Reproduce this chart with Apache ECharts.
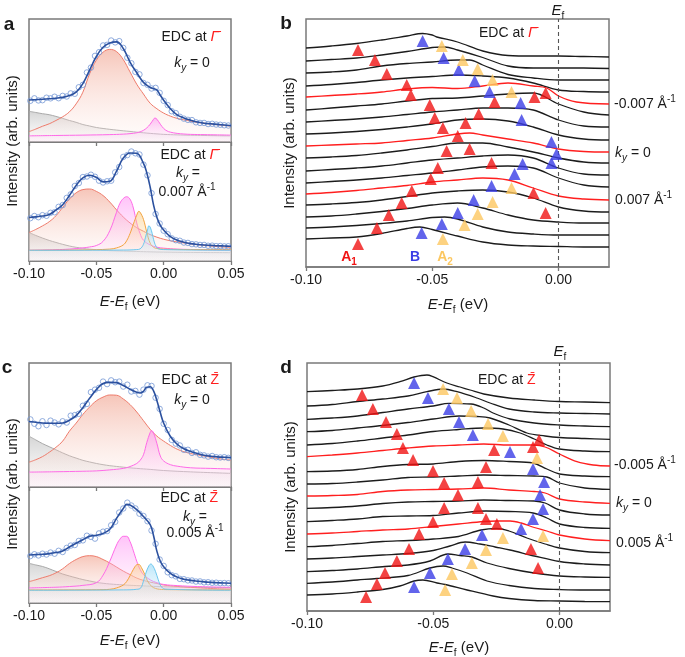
<!DOCTYPE html>
<html><head><meta charset="utf-8">
<script src="https://cdn.jsdelivr.net/npm/echarts/dist/echarts.min.js"></script>
<style>html,body{margin:0;padding:0;background:#fff}#c{width:685px;height:657px}</style>
</head><body><div id="c"></div><script>
// ---------- DATA ----------
const ptsE = [-0.099,-0.096,-0.093,-0.090,-0.087,-0.084,-0.081,-0.078,-0.075,-0.072,-0.069,-0.066,-0.063,-0.060,-0.057,-0.054,-0.051,-0.048,-0.045,-0.042,-0.039,-0.036,-0.033,-0.030,-0.027,-0.024,-0.021,-0.018,-0.015,-0.012,-0.009,-0.006,-0.003,0.000,0.003,0.006,0.009,0.012,0.015,0.018,0.021,0.024,0.027,0.030,0.033,0.036,0.039,0.042,0.045,0.048];
const aTopPts = [33.5,35.5,33.8,34.0,36.0,35.5,36.8,35.6,37.5,37.0,39.5,39.2,44.5,46.5,56.5,60.5,70.0,73.0,78.5,79.0,82.5,81.0,82.0,76.5,68.5,64.0,57.0,55.0,48.0,46.5,43.5,44.0,40.0,33.5,30.0,25.0,23.5,20.5,19.0,18.0,17.8,16.0,15.5,15.5,14.6,14.8,14.2,14.0,13.6,13.4];
const aBotPts = [36.0,37.8,36.8,38.5,38.0,40.5,41.0,45.5,47.0,53.0,56.0,63.0,65.5,70.5,71.0,72.5,70.8,67.5,66.0,67.0,67.5,74.5,79.0,87.5,89.0,92.0,90.5,89.5,81.0,72.0,57.0,39.5,31.5,25.5,22.5,19.0,17.5,17.0,15.5,15.2,14.2,14.0,13.5,13.5,12.8,12.9,12.5,12.6,12.3,12.4];
const cTopPts = [54.5,51.0,49.0,53.0,50.0,53.5,52.0,50.5,53.0,52.0,57.5,58.0,59.0,65.5,67.0,76.5,78.5,80.0,85.0,83.0,86.0,84.5,85.0,81.0,82.5,77.0,77.5,74.5,78.5,82.0,81.5,72.0,63.0,51.0,46.0,38.0,35.0,33.5,30.0,30.0,27.5,28.0,26.0,25.5,24.5,25.0,24.0,23.8,24.0,23.5];
const cBotPts = [40.5,42.0,41.0,42.5,41.8,43.5,42.5,45.0,44.0,47.5,49.5,50.0,53.5,54.0,58.0,57.0,55.5,60.0,61.5,62.0,67.0,70.0,78.0,81.5,86.5,84.0,81.5,77.0,75.0,70.5,62.5,51.0,37.5,32.0,26.5,24.0,23.0,20.8,20.5,19.5,19.4,18.5,18.6,17.8,17.9,17.4,17.5,17.1,17.2,17.0];

const aTopFit = [[-0.100,34.1],[-0.095,34.4],[-0.090,34.7],[-0.085,35.1],[-0.080,35.6],[-0.075,36.3],[-0.070,37.8],[-0.065,40.5],[-0.060,47.5],[-0.055,58.5],[-0.050,69.5],[-0.045,77],[-0.040,80.5],[-0.035,81.4],[-0.030,76],[-0.025,65],[-0.020,56.3],[-0.015,48.5],[-0.010,44.3],[-0.0075,43.4],[-0.005,42.3],[-0.0025,38],[0.000,34],[0.005,27],[0.010,22],[0.015,19.5],[0.020,17.7],[0.025,16.2],[0.030,15.3],[0.035,14.8],[0.040,14.3],[0.045,13.8],[0.050,13.3]];
const aTopRed = [[-0.100,8.4],[-0.095,10.5],[-0.090,12.8],[-0.085,14.8],[-0.080,17.5],[-0.075,20.5],[-0.070,24.5],[-0.065,31],[-0.060,40.5],[-0.055,55.5],[-0.050,66.5],[-0.045,73],[-0.040,75.3],[-0.035,73.5],[-0.030,67],[-0.025,57],[-0.020,47],[-0.015,39],[-0.010,31.5],[-0.005,27],[0.000,23.5],[0.005,21],[0.010,19.2],[0.015,18],[0.020,17],[0.025,16],[0.030,15.3],[0.035,14.7],[0.040,14.1],[0.045,13.5],[0.050,13]];
const aTopGray = [[-0.100,25],[-0.095,24],[-0.090,23],[-0.085,22.2],[-0.080,20.8],[-0.075,19.2],[-0.070,17.5],[-0.065,16],[-0.060,14.2],[-0.055,13],[-0.050,11.8],[-0.045,11],[-0.040,10.3],[-0.035,9.7],[-0.030,9.1],[-0.025,8.6],[-0.020,8],[-0.015,7.5],[-0.010,7],[-0.005,6.6],[0.000,6.2],[0.010,5.8],[0.020,5.5],[0.030,5.3],[0.040,5.1],[0.050,5]];
const aTopPink = [[-0.100,5],[-0.080,5.3],[-0.060,5.6],[-0.040,6],[-0.030,6.4],[-0.025,6.8],[-0.020,7.5],[-0.0175,8.3],[-0.015,9.5],[-0.0125,11.5],[-0.010,14.5],[-0.0075,18.5],[-0.0065,19.5],[-0.005,18.5],[-0.0025,14.5],[0.000,11],[0.0025,9],[0.005,8],[0.010,7],[0.015,6.5],[0.020,6.2],[0.030,6],[0.040,5.8],[0.050,5.6]];

const aBotFit = [[-0.100,36.6],[-0.095,37.1],[-0.090,37.8],[-0.085,39],[-0.080,42.8],[-0.075,47.3],[-0.070,55],[-0.065,63.5],[-0.060,69.8],[-0.055,72],[-0.050,70.3],[-0.045,66.5],[-0.040,67],[-0.035,75.5],[-0.030,86.5],[-0.025,90.8],[-0.020,90.5],[-0.015,82],[-0.0125,74],[-0.010,62],[-0.0075,47],[-0.005,36.5],[-0.0025,30],[0.000,26],[0.005,20.5],[0.010,17.5],[0.015,15.8],[0.020,14.6],[0.025,13.9],[0.030,13.4],[0.035,13.1],[0.040,12.8],[0.045,12.6],[0.050,12.4]];
const aBotRed = [[-0.100,23.9],[-0.095,26.5],[-0.090,29.5],[-0.085,33],[-0.080,38],[-0.075,45],[-0.070,52],[-0.065,57.3],[-0.060,60],[-0.055,60.5],[-0.050,58.5],[-0.045,55],[-0.040,49.5],[-0.035,43],[-0.030,37],[-0.025,32],[-0.020,28],[-0.015,25],[-0.010,22.2],[-0.005,20],[0.000,18.3],[0.005,17],[0.010,16],[0.015,15.2],[0.020,14.5],[0.025,13.8],[0.030,13.2],[0.035,12.6],[0.040,12.1],[0.045,11.7],[0.050,11.3]];
const aBotMag = [[-0.100,9],[-0.090,9.2],[-0.080,9.5],[-0.070,10],[-0.060,11],[-0.055,11.8],[-0.050,13],[-0.045,16.5],[-0.040,25.5],[-0.035,41],[-0.0325,48.5],[-0.030,52.5],[-0.0275,54],[-0.025,52],[-0.0225,44.5],[-0.020,32],[-0.0175,23],[-0.015,17.5],[-0.010,13.5],[-0.005,11.6],[0.000,10.8],[0.010,10],[0.020,9.7],[0.035,9.3],[0.050,9]];
const aBotOrg = [[-0.100,9],[-0.060,9.3],[-0.040,10],[-0.035,11],[-0.030,13.5],[-0.0275,17],[-0.025,23],[-0.0225,31],[-0.020,38.5],[-0.0185,41.7],[-0.0175,41],[-0.015,35],[-0.0125,24],[-0.010,15],[-0.0075,11.5],[-0.005,10.5],[0.000,10],[0.020,9.6],[0.050,9.5]];
const aBotCyan = [[-0.100,9],[-0.030,9.2],[-0.020,9.6],[-0.0175,10.2],[-0.015,14],[-0.0135,20],[-0.012,26],[-0.011,29.6],[-0.010,28.5],[-0.0085,23],[-0.007,16],[-0.0055,12],[-0.004,10.3],[0.000,9.6],[0.050,9]];
const aBotGray = [[-0.100,24],[-0.095,21.5],[-0.090,19.3],[-0.085,17.3],[-0.080,15.6],[-0.075,14],[-0.070,12.6],[-0.065,11.5],[-0.060,10.7],[-0.055,10],[-0.050,9.5],[-0.045,9],[-0.040,8.7],[-0.030,8.3],[-0.020,8],[-0.010,7.7],[0.000,7.5],[0.020,7.2],[0.050,7]];

const cTopFit = [[-0.100,52.8],[-0.095,52.2],[-0.090,51.6],[-0.085,51.4],[-0.080,51.4],[-0.075,51.6],[-0.070,53.8],[-0.065,57.5],[-0.060,64],[-0.055,71.5],[-0.050,78.5],[-0.045,83.5],[-0.040,84.4],[-0.035,84.2],[-0.030,81.8],[-0.025,78.8],[-0.020,76.4],[-0.0175,75.8],[-0.015,77.2],[-0.0125,80.5],[-0.010,80.8],[-0.0075,77.5],[-0.005,69.5],[-0.0025,60],[0.000,51.5],[0.005,40.7],[0.010,34.5],[0.015,30.8],[0.020,28.6],[0.025,27],[0.030,25.6],[0.035,24.8],[0.040,24.3],[0.045,24],[0.050,23.7]];
const cTopRed = [[-0.100,20],[-0.095,22],[-0.090,24.5],[-0.085,28],[-0.080,32],[-0.075,37],[-0.070,45],[-0.065,51.5],[-0.060,58.5],[-0.055,64.5],[-0.050,69.5],[-0.045,72.5],[-0.040,74.2],[-0.035,74],[-0.030,71],[-0.025,66.5],[-0.020,60.5],[-0.015,53.5],[-0.010,46.5],[-0.005,41],[0.000,37],[0.005,33.5],[0.010,30.5],[0.015,28.5],[0.020,27],[0.025,26],[0.030,25],[0.035,24],[0.040,23],[0.045,22.3],[0.050,21.8]];
const cTopMag = [[-0.100,12],[-0.080,12.3],[-0.060,12.7],[-0.050,13],[-0.040,13.8],[-0.030,15],[-0.025,16.5],[-0.020,19],[-0.0175,21.5],[-0.015,26],[-0.0125,36],[-0.010,44],[-0.009,45.5],[-0.0075,43.5],[-0.005,35],[-0.0025,25],[0.000,21],[0.005,18],[0.010,16.8],[0.020,15.5],[0.035,15],[0.050,14.5]];
const cTopGray = [[-0.100,41],[-0.095,38],[-0.090,35],[-0.085,32.5],[-0.080,30],[-0.075,27.5],[-0.070,25.2],[-0.065,23.3],[-0.060,21.5],[-0.055,20.2],[-0.050,19],[-0.045,18],[-0.040,17.2],[-0.030,16],[-0.020,15],[-0.010,14.2],[0.000,13.3],[0.020,12.2],[0.050,11]];

const cBotFit = [[-0.100,41.4],[-0.095,41.7],[-0.090,42],[-0.085,42.6],[-0.080,43.5],[-0.075,44.8],[-0.070,48.3],[-0.065,51.5],[-0.060,54.5],[-0.055,57.5],[-0.050,58.4],[-0.045,60],[-0.040,63.5],[-0.035,73],[-0.030,81.5],[-0.0275,85],[-0.025,84.5],[-0.020,80.5],[-0.015,74.5],[-0.010,67.5],[-0.0075,58],[-0.005,44.5],[-0.0025,36],[0.000,31.3],[0.005,25.5],[0.010,22.3],[0.015,20.5],[0.020,19.5],[0.025,18.8],[0.030,18.2],[0.035,17.8],[0.040,17.5],[0.045,17.2],[0.050,17]];
const cBotRed = [[-0.100,18.4],[-0.095,20],[-0.090,21.8],[-0.085,23.5],[-0.080,26],[-0.075,29.5],[-0.070,34],[-0.065,37.5],[-0.060,40],[-0.055,40.8],[-0.050,40],[-0.045,37.5],[-0.040,34.5],[-0.035,31],[-0.030,27.5],[-0.025,24.5],[-0.020,21.5],[-0.015,19.5],[-0.010,18],[-0.005,16.8],[0.000,15.5],[0.010,14.3],[0.020,13.5],[0.030,12.8],[0.040,12.3],[0.050,12]];
const cBotMag = [[-0.100,13],[-0.080,13.6],[-0.070,14.2],[-0.060,15.2],[-0.050,17.5],[-0.045,24],[-0.040,36],[-0.035,50],[-0.0325,55],[-0.030,57.5],[-0.0275,57.5],[-0.025,53],[-0.0225,45],[-0.020,36],[-0.0175,29],[-0.015,24.5],[-0.010,20],[-0.005,17.5],[0.000,16],[0.010,15],[0.025,14.2],[0.050,13.5]];
const cBotOrg = [[-0.100,11.2],[-0.050,11.4],[-0.040,11.8],[-0.035,13],[-0.030,15.5],[-0.0275,18.5],[-0.025,23.5],[-0.0225,29],[-0.020,33],[-0.0185,33.3],[-0.0165,30.5],[-0.014,24.5],[-0.0115,18],[-0.009,14.5],[-0.006,12.5],[0.000,11.6],[0.050,11.2]];
const cBotCyan = [[-0.100,11],[-0.030,11.3],[-0.020,11.8],[-0.017,13],[-0.015,19],[-0.013,26.5],[-0.011,32],[-0.0095,33.6],[-0.008,32],[-0.006,27],[-0.004,20],[-0.002,14.5],[0.001,12],[0.050,11]];
const cBotGray = [[-0.100,34.2],[-0.095,32.8],[-0.090,31.5],[-0.085,29.5],[-0.080,27.2],[-0.075,25],[-0.070,23.3],[-0.065,21.7],[-0.060,20.2],[-0.055,19],[-0.050,17.8],[-0.045,17],[-0.040,16.4],[-0.030,15.6],[-0.020,15],[-0.010,14.5],[0.000,14],[0.020,13.6],[0.050,13.2]];

// stacked EDCs, panel b (intensity incl. offset)
const edcB = [
 [[-0.100,219],[-0.090,221],[-0.080,223.5],[-0.070,227],[-0.060,231],[-0.0538,233.5],[-0.050,232],[-0.0482,230],[-0.040,225],[-0.030,216],[-0.020,211.5],[-0.010,211],[0.000,211],[0.010,210.5],[0.020,210]],
 [[-0.100,206],[-0.090,207.5],[-0.080,209],[-0.070,212],[-0.060,215.5],[-0.050,219.5],[-0.0451,220],[-0.040,217],[-0.030,209.5],[-0.020,201],[-0.010,199],[0.000,199],[0.010,199],[0.020,198.5]],
 [[-0.100,194],[-0.090,195],[-0.080,197],[-0.070,201],[-0.060,203.5],[-0.050,205],[-0.040,207],[-0.0352,207],[-0.030,202],[-0.020,192.5],[-0.010,189],[0.000,187],[0.010,187],[0.020,187]],
 [[-0.100,181],[-0.090,182.5],[-0.080,184.5],[-0.070,187],[-0.060,189],[-0.050,190.5],[-0.040,192],[-0.030,191],[-0.020,189],[-0.010,184],[0.000,177],[0.010,175.5],[0.020,175]],
 [[-0.100,170],[-0.090,171.5],[-0.080,173],[-0.070,175],[-0.060,178],[-0.050,179.5],[-0.040,178.5],[-0.030,181],[-0.020,184],[-0.010,181],[-0.0047,179],[0.000,171],[0.0071,165],[0.020,163]],
 [[-0.100,157],[-0.090,159],[-0.080,161],[-0.070,163],[-0.060,166],[-0.050,168.5],[-0.040,169],[-0.030,171],[-0.020,173],[-0.010,174],[0.000,163],[0.010,155],[0.020,152]],
 [[-0.100,145],[-0.090,146.5],[-0.080,148],[-0.070,150],[-0.060,152.5],[-0.050,155],[-0.040,157],[-0.030,159],[-0.020,159],[-0.010,157],[0.000,147],[0.010,141],[0.020,140]],
 [[-0.100,133],[-0.090,134],[-0.080,135.5],[-0.070,137.5],[-0.060,140],[-0.050,143],[-0.040,147],[-0.030,148],[-0.020,146],[-0.010,140],[0.000,132],[0.010,128],[0.020,127]],
 [[-0.100,121],[-0.090,122],[-0.080,123],[-0.070,124],[-0.060,126.5],[-0.050,129],[-0.040,133],[-0.0352,134],[-0.030,132],[-0.020,128],[-0.010,124],[0.000,118],[0.010,115.5],[0.020,115]],
 [[-0.100,109],[-0.090,110],[-0.080,111.5],[-0.070,114],[-0.060,117],[-0.050,120.5],[-0.040,124],[-0.030,124],[-0.020,120],[-0.010,115],[0.000,109],[0.010,105],[0.020,104]],
 [[-0.100,96],[-0.090,97.5],[-0.080,99],[-0.070,101],[-0.060,104],[-0.050,107],[-0.040,109],[-0.030,111],[-0.020,112],[-0.010,109],[0.000,99],[0.010,93],[0.020,92]],
 [[-0.100,84],[-0.090,85.5],[-0.080,87],[-0.070,89],[-0.060,91.5],[-0.050,94],[-0.040,97],[-0.030,100],[-0.020,101],[-0.010,99],[0.000,89],[0.010,82],[0.020,80]],
 [[-0.100,73],[-0.090,74.5],[-0.080,76.5],[-0.070,79],[-0.060,81.5],[-0.050,85],[-0.040,87],[-0.030,89],[-0.020,87],[-0.010,79],[0.000,71],[0.010,68],[0.020,67]],
 [[-0.100,62],[-0.090,63],[-0.080,64.5],[-0.070,67],[-0.060,70.5],[-0.050,74],[-0.040,76],[-0.030,77],[-0.020,75],[-0.010,69],[0.000,60],[0.010,56],[0.020,55]],
 [[-0.100,50],[-0.090,51],[-0.080,53],[-0.070,55.5],[-0.060,58.5],[-0.050,62],[-0.040,64],[-0.030,59],[-0.020,52],[-0.010,47],[0.000,45],[0.010,44],[0.020,44]],
 [[-0.100,39],[-0.090,40],[-0.080,41.5],[-0.070,43.5],[-0.060,46],[-0.050,49.5],[-0.0451,50],[-0.040,48],[-0.030,40],[-0.020,35],[-0.010,33],[0.000,32],[0.010,32],[0.020,32]],
 [[-0.100,28],[-0.090,29],[-0.080,30],[-0.070,33.5],[-0.060,38.5],[-0.0549,40],[-0.050,37.5],[-0.040,31],[-0.030,25],[-0.020,22],[-0.010,21],[0.000,20.5],[0.010,20],[0.020,20]]
];
const redRowsB = [4, 8, 12];

// stacked EDCs, panel d
const edcD = [
 [[-0.100,219.3],[-0.090,220.5],[-0.080,222],[-0.070,225],[-0.0632,229.3],[-0.0576,234],[-0.0525,236],[-0.0501,234.3],[-0.0446,228],[-0.0394,224],[-0.0354,221],[-0.030,217],[-0.020,213],[-0.010,211],[0.000,209.5],[0.010,209],[0.020,208.3]],
 [[-0.100,205],[-0.090,206.5],[-0.080,209.5],[-0.070,212],[-0.060,215],[-0.0525,219.3],[-0.0461,222],[-0.0406,219.3],[-0.0327,213],[-0.0275,208],[-0.020,202],[-0.010,199],[0.000,198],[0.010,197.5],[0.020,197]],
 [[-0.100,191.7],[-0.090,193],[-0.080,195],[-0.070,198.5],[-0.060,202],[-0.050,205],[-0.0438,207.7],[-0.035,207],[-0.030,203],[-0.0263,198],[-0.0196,192],[-0.010,188],[0.000,186],[0.010,185],[0.020,184.3]],
 [[-0.100,179.3],[-0.090,180.5],[-0.080,183],[-0.070,185.5],[-0.060,188.5],[-0.050,192],[-0.0398,195],[-0.0327,194.5],[-0.0275,193],[-0.020,186],[-0.0129,178],[-0.0057,175],[0.000,173.5],[0.010,172.5],[0.020,171.7]],
 [[-0.100,166],[-0.090,167.5],[-0.080,170],[-0.070,173],[-0.060,176],[-0.050,179.5],[-0.040,181.5],[-0.030,183],[-0.0224,182],[-0.0156,178],[-0.010,172],[-0.005,166],[0.000,162],[0.010,160],[0.020,159.3]],
 [[-0.100,154.3],[-0.090,156],[-0.080,158],[-0.070,160.5],[-0.060,163],[-0.050,165],[-0.040,166],[-0.030,167],[-0.020,166],[-0.010,166],[-0.0057,164],[0.000,157],[0.0069,149.3],[0.0133,146],[0.020,145]],
 [[-0.100,139.3],[-0.090,140],[-0.080,141.5],[-0.070,144.5],[-0.060,146.5],[-0.050,147],[-0.040,149.5],[-0.030,150.5],[-0.020,149.5],[-0.0105,148],[-0.005,142],[0.000,137],[0.010,135],[0.020,134.3]],
 [[-0.100,127],[-0.090,127.5],[-0.080,129],[-0.070,131],[-0.060,133.5],[-0.050,134],[-0.040,135],[-0.030,136],[-0.020,135.5],[-0.010,135],[-0.005,134],[0.000,128],[0.010,123],[0.020,121.7]],
 [[-0.100,115],[-0.090,115.5],[-0.080,116.5],[-0.070,119.5],[-0.060,121],[-0.050,121.5],[-0.040,122],[-0.030,123],[-0.020,121],[-0.010,119.5],[-0.0057,118],[0.000,112],[0.010,109],[0.020,107.7]],
 [[-0.100,102.7],[-0.090,103.5],[-0.080,105],[-0.070,107.5],[-0.060,109],[-0.050,109.5],[-0.040,110],[-0.030,111],[-0.020,110.5],[-0.010,110],[-0.0057,108],[0.000,101],[0.010,97],[0.020,96]],
 [[-0.100,89.3],[-0.090,90.5],[-0.080,92],[-0.070,94.5],[-0.060,95],[-0.050,95.5],[-0.040,98],[-0.0291,100],[-0.020,99.5],[-0.0105,98],[-0.005,93],[0.000,87],[0.010,83.5],[0.020,82.7]],
 [[-0.100,77],[-0.090,78],[-0.080,79.5],[-0.070,81],[-0.060,82],[-0.050,84.5],[-0.040,87],[-0.030,89.5],[-0.0248,90],[-0.0196,90],[-0.0152,88],[-0.010,83.5],[-0.005,80],[0.000,76],[0.010,72],[0.020,70.3]],
 [[-0.100,64.3],[-0.090,65.5],[-0.080,67.5],[-0.070,69.5],[-0.0596,70.5],[-0.050,72],[-0.040,74.5],[-0.0311,81],[-0.0248,82.5],[-0.020,80],[-0.0129,73],[-0.0057,67],[0.000,63],[0.010,59.5],[0.020,58.3]],
 [[-0.100,52],[-0.090,53],[-0.080,54.5],[-0.070,56],[-0.060,57.5],[-0.050,60.5],[-0.0434,65],[-0.0374,69],[-0.0315,67],[-0.0255,64],[-0.0196,61],[-0.010,55],[0.000,49.5],[0.010,47],[0.020,46]],
 [[-0.100,39.3],[-0.090,40.5],[-0.080,42],[-0.0691,44.5],[-0.060,46],[-0.0513,50],[-0.0442,57],[-0.0394,55.5],[-0.0347,54],[-0.0287,48],[-0.020,42.5],[-0.010,38],[0.000,35],[0.010,34],[0.020,33.7]],
 [[-0.100,27.7],[-0.090,29],[-0.080,31],[-0.0723,32.5],[-0.060,35.5],[-0.0513,43],[-0.0461,45],[-0.0426,43],[-0.0366,38],[-0.0287,30],[-0.020,25.5],[-0.010,22.5],[0.000,21.5],[0.010,21],[0.020,21]],
 [[-0.100,16],[-0.090,17],[-0.080,19],[-0.070,21.5],[-0.0632,25],[-0.0576,30],[-0.0541,31],[-0.0485,28],[-0.0453,26.5],[-0.0366,21],[-0.0263,15],[-0.020,12.5],[-0.010,10.5],[0.000,10],[0.010,9.5],[0.020,9.3]]
];
const redRowsD = [5, 8, 11];

// peak markers [E, intensity at marker tip]
const bA1 = [[-0.0794,223],[-0.0727,213],[-0.0680,199],[-0.0601,188],[-0.0585,178],[-0.0510,168],[-0.0490,155],[-0.0458,145],[-0.0399,137],[-0.0443,122],[-0.0478,105],[-0.0506,94],[-0.0581,82],[-0.0621,70],[-0.0672,58],[-0.0719,45],[-0.0794,29],[-0.0051,180],[-0.0095,176],[-0.0253,171],[-0.0316,159],[-0.0368,150],[-0.0352,124],[-0.0265,110],[-0.0099,80],[-0.0051,60]];
const bB = [[-0.0538,232],[-0.0455,215],[-0.0395,203],[-0.0332,192],[-0.0273,181],[-0.0150,170],[-0.0146,153],[-0.0028,131],[-0.0008,119],[-0.0028,110],[-0.0142,109],[-0.0174,99],[-0.0265,87],[-0.0336,73],[-0.0399,60],[-0.0462,49],[-0.0542,40]];
const bA2 = [[-0.0462,227],[-0.0379,213],[-0.0320,204],[-0.0261,193],[-0.0186,181],[-0.0186,85],[-0.0261,71],[-0.0320,59],[-0.0372,48],[-0.0458,34]];
const dA1 = [[-0.0782,222],[-0.0739,208],[-0.0687,195],[-0.0644,183],[-0.0620,169],[-0.0580,157],[-0.0501,146],[-0.0457,134],[-0.0402,122],[-0.0457,109],[-0.0501,95],[-0.0556,83],[-0.0596,68],[-0.0644,56],[-0.0691,44],[-0.0723,33],[-0.0766,20],[-0.0081,177],[-0.0105,170],[-0.0259,167],[-0.0291,150],[-0.0323,135],[-0.0323,109],[-0.0291,98],[-0.0248,93],[-0.0113,68],[-0.0085,49]];
const dB = [[-0.0576,234],[-0.0521,219],[-0.0438,208],[-0.0398,195],[-0.0343,182],[-0.0196,165],[-0.0105,148],[-0.0061,135],[-0.0077,122],[-0.0065,108],[-0.0105,98],[-0.0152,88],[-0.0307,82],[-0.0374,68],[-0.0442,58],[-0.0513,44],[-0.0576,30]];
const dA2 = [[-0.0461,228],[-0.0406,219],[-0.0350,206],[-0.0283,193],[-0.0224,181],[-0.0089,159],[-0.0065,81],[-0.0224,79],[-0.0291,67],[-0.0347,54],[-0.0426,43],[-0.0453,27]];

const ticksAC = [-0.10, -0.05, 0.00, 0.05];
const ticksBD = [-0.10, -0.05, 0.00];
const kLabelsB = ['-0.007', '0', '0.007'];
const kLabelsD = ['-0.005', '0', '0.005'];

// ---------- CHART ----------
const FONT = '"Liberation Sans", Arial, sans-serif';
const TXT = '#1a1a1a';
const BORDER = '#7a7a7a';
const chart = echarts.init(document.getElementById('c'), null, {renderer: 'canvas'});

const gridDefs = [
  {left: 29, top: 19, width: 202, height: 123},
  {left: 29, top: 142, width: 202, height: 119},
  {left: 306, top: 19, width: 303, height: 248},
  {left: 29, top: 363, width: 202, height: 124},
  {left: 29, top: 487, width: 202, height: 116},
  {left: 307, top: 363, width: 303, height: 248}
];
const grid = gridDefs.map(g => Object.assign({show: true, borderColor: BORDER, borderWidth: 1.5, backgroundColor: 'rgba(0,0,0,0)', containLabel: false}, g));

function xAx(gi, max, ticks, showLabel) {
  return {type: 'value', gridIndex: gi, min: -0.10, max: max, interval: 0.05,
    axisLine: {show: true, lineStyle: {color: BORDER, width: 1.5}},
    axisTick: {show: true, length: 4, inside: false, customValues: ticks, lineStyle: {color: BORDER, width: 1.3}},
    axisLabel: {show: showLabel, customValues: ticks, formatter: v => v.toFixed(2), fontSize: 14, fontFamily: FONT, color: TXT, margin: 6},
    splitLine: {show: false}};
}
const xAxis = [xAx(0, 0.05, ticksAC, false), xAx(1, 0.05, ticksAC, true), xAx(2, 0.02, ticksBD, true),
               xAx(3, 0.05, ticksAC, false), xAx(4, 0.05, ticksAC, true), xAx(5, 0.02, ticksBD, true)];
const yMax = [100, 100, 248, 100, 100, 248];
const yAxis = yMax.map((m, i) => ({type: 'value', gridIndex: i, min: 0, max: m, show: false}));

function grad(top, bot) {
  return {type: 'linear', x: 0, y: 0, x2: 0, y2: 1, colorStops: [{offset: 0, color: top}, {offset: 1, color: bot}]};
}
const STY = {
  gray: ['#a9a9a9', 'rgba(170,170,170,0.7)', 'rgba(238,238,238,0.3)'],
  red: ['#ef7b6b', 'rgba(239,152,130,0.8)', 'rgba(254,238,234,0.25)'],
  mag: ['#ff6ae8', 'rgba(255,135,242,0.72)', 'rgba(255,225,250,0.2)'],
  org: ['#f3a33d', 'rgba(250,195,110,0.72)', 'rgba(255,242,225,0.2)'],
  cyan: ['#6ec7ee', 'rgba(130,210,246,0.78)', 'rgba(225,243,252,0.2)']
};
const series = [];
function comp(gi, data, key, z) {
  const s = STY[key];
  series.push({type: 'line', xAxisIndex: gi, yAxisIndex: gi, data: data, symbol: 'none', smooth: 0.4,
    lineStyle: {color: s[0], width: 1}, areaStyle: {color: grad(s[1], s[2]), origin: 'start'}, z: z, silent: true});
}
function fit(gi, data) {
  series.push({type: 'line', xAxisIndex: gi, yAxisIndex: gi, data: data, symbol: 'none', smooth: 0.4,
    lineStyle: {color: '#2b509e', width: 1.6}, z: 8, silent: true});
}
function pts(gi, vals) {
  series.push({type: 'scatter', xAxisIndex: gi, yAxisIndex: gi, data: ptsE.map((e, i) => [e, vals[i]]), symbol: 'circle', symbolSize: 5.5,
    itemStyle: {color: 'rgba(0,0,0,0)', borderColor: '#7598d6', borderWidth: 1}, z: 7, silent: true});
}
// panel a
comp(0, aTopGray, 'gray', 1); comp(0, aTopRed, 'red', 2); comp(0, aTopPink, 'mag', 3); pts(0, aTopPts); fit(0, aTopFit);
comp(1, aBotGray, 'gray', 1); comp(1, aBotRed, 'red', 2); comp(1, aBotMag, 'mag', 3); comp(1, aBotOrg, 'org', 4); comp(1, aBotCyan, 'cyan', 5); pts(1, aBotPts); fit(1, aBotFit);
// panel c
comp(3, cTopGray, 'gray', 1); comp(3, cTopRed, 'red', 2); comp(3, cTopMag, 'mag', 3); pts(3, cTopPts); fit(3, cTopFit);
comp(4, cBotGray, 'gray', 1); comp(4, cBotRed, 'red', 2); comp(4, cBotMag, 'mag', 3); comp(4, cBotOrg, 'org', 4); comp(4, cBotCyan, 'cyan', 5); pts(4, cBotPts); fit(4, cBotFit);

function edc(gi, curves, reds) {
  curves.forEach((d, i) => series.push({type: 'line', xAxisIndex: gi, yAxisIndex: gi, data: d, symbol: 'none', smooth: 0.35,
    lineStyle: {color: reds.includes(i) ? '#ff1f1f' : '#1c1c1c', width: 1.3}, z: 3, silent: true,
    markLine: i === 0 ? {silent: true, symbol: ['none', 'none'], label: {show: false},
      lineStyle: {type: [4, 3], color: '#555', width: 1.1}, data: [{xAxis: 0}]} : undefined}));
}
edc(2, edcB, redRowsB); edc(5, edcD, redRowsD);
function tri(gi, data, color) {
  series.push({type: 'scatter', xAxisIndex: gi, yAxisIndex: gi, data: data, symbol: 'triangle', symbolSize: [12, 12],
    symbolOffset: [0, '50%'], itemStyle: {color: color}, z: 6, silent: true});
}
const RED = '#f01414', BLUE = '#3b3de6', YEL = '#fcc760';
tri(2, bA1, RED); tri(2, bB, BLUE); tri(2, bA2, YEL);
tri(5, dA1, RED); tri(5, dB, BLUE); tri(5, dA2, YEL);

// ---------- TEXT ----------
const base = {fontFamily: FONT, fill: TXT, color: TXT};
function st(o) { return Object.assign({}, base, o); }
const RICH = {
  n: st({fontSize: 14, lineHeight: 20}),
  i: st({fontSize: 14, fontStyle: 'italic', lineHeight: 20}),
  sb: st({fontSize: 10, fontStyle: 'italic', lineHeight: 11, verticalAlign: 'bottom'}),
  sp: st({fontSize: 10, lineHeight: 11, verticalAlign: 'top'}),
  g: st({fontSize: 15, fontStyle: 'italic', lineHeight: 20, fill: '#ff1f1f', color: '#ff1f1f'}),
  zz: st({fontSize: 14, lineHeight: 20, fill: '#ff1f1f', color: '#ff1f1f'}),
  N: st({fontSize: 15, lineHeight: 20}),
  I: st({fontSize: 15, fontStyle: 'italic', lineHeight: 20}),
  SB: st({fontSize: 10, lineHeight: 11, verticalAlign: 'bottom'}),
  L: st({fontSize: 19, fontWeight: 'bold', lineHeight: 22}),
  ar: st({fontSize: 14, fontWeight: 'bold', lineHeight: 20, fill: RED, color: RED}),
  ars: st({fontSize: 10, fontWeight: 'bold', lineHeight: 11, verticalAlign: 'bottom', fill: RED, color: RED}),
  ab: st({fontSize: 14, fontWeight: 'bold', lineHeight: 20, fill: BLUE, color: BLUE}),
  ay: st({fontSize: 14, fontWeight: 'bold', lineHeight: 20, fill: YEL, color: YEL}),
  ays: st({fontSize: 10, fontWeight: 'bold', lineHeight: 11, verticalAlign: 'bottom', fill: YEL, color: YEL})
};
function T(x, y, text, align, rot) {
  align = align || 'center';
  return {type: 'text', x: x, y: y, rotation: rot || 0, silent: true, z: 100,
    style: {text: text, rich: RICH, fill: TXT, fontSize: 14, fontFamily: FONT, align: align, verticalAlign: 'middle', textAlign: align, textVerticalAlign: 'middle'}};
}
const GAM = '{n|EDC at }{g|\u0393\u0304}';
const ZED = '{n|EDC at }{zz|Z\u0304}';
const KY0 = '{i|k}{sb|y}{n| = 0}';
const KYE = '{i|k}{sb|y}{n| =}';
const ANG = v => '{n|' + v + ' \u00C5}{sp|-1}';
const XT = '{I|E}{N|-}{I|E}{SB|f}{N| (eV)}';
const YT = '{N|Intensity (arb. units)}';
const EF = '{I|E}{SB|f}';
const graphic = [
  T(9, 25, '{L|a}'), T(286, 24, '{L|b}'), T(7, 368, '{L|c}'), T(286, 368, '{L|d}'),
  T(13, 141, YT, 'center', Math.PI / 2), T(290, 143, YT, 'center', Math.PI / 2),
  T(13, 484, YT, 'center', Math.PI / 2), T(291, 487, YT, 'center', Math.PI / 2),
  T(130, 302, XT), T(458, 305, XT), T(130, 641, XT), T(459, 648, XT),
  // panel a
  T(219, 37, GAM, 'right'), T(192, 63, KY0), T(218, 155, GAM, 'right'), T(188, 173, KYE), T(187, 192, ANG('0.007')),
  // panel c
  T(219, 380, ZED, 'right'), T(192, 400, KY0), T(218, 498, ZED, 'right'), T(195, 517, KYE), T(195, 533, ANG('0.005')),
  // panel b
  T(479, 33, GAM, 'left'), T(558, 11, EF),
  T(614, 104, ANG(kLabelsB[0]), 'left'), T(615, 153, KY0, 'left'), T(615, 200, ANG(kLabelsB[2]), 'left'),
  T(349, 257, '{ar|A}{ars|1}'), T(415, 257, '{ab|B}'), T(445, 257, '{ay|A}{ays|2}'),
  // panel d
  T(478, 380, ZED, 'left'), T(560, 352, EF),
  T(614, 465, ANG(kLabelsD[0]), 'left'), T(616, 503, KY0, 'left'), T(616, 543, ANG(kLabelsD[2]), 'left')
];

chart.setOption({animation: false, backgroundColor: '#ffffff', grid: grid, xAxis: xAxis, yAxis: yAxis, series: series, graphic: graphic});
</script></body></html>
